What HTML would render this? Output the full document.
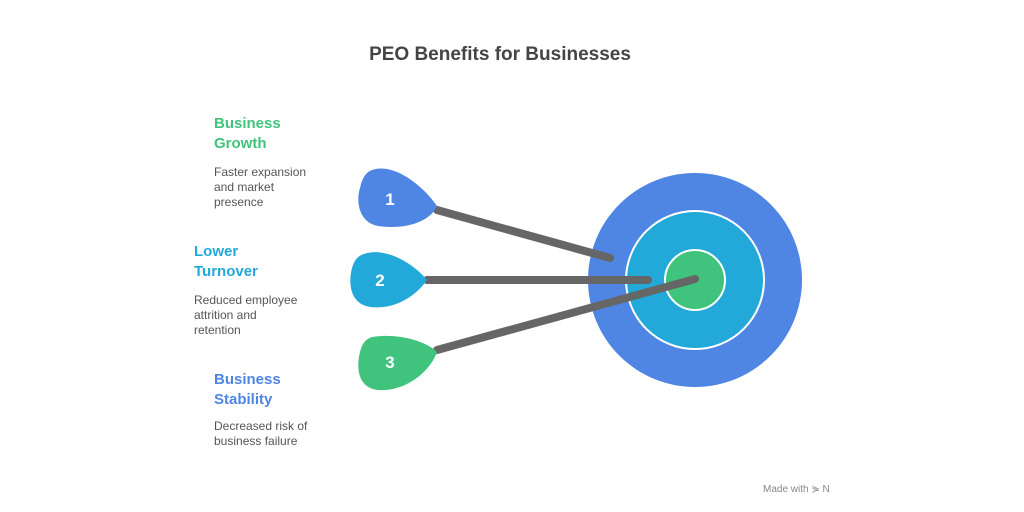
<!DOCTYPE html>
<html><head><style>
body{margin:0;width:1024px;height:512px;background:#fff;font-family:"Liberation Sans",sans-serif;position:relative;overflow:hidden}
.t{position:absolute;font-weight:bold;font-size:15px;line-height:20px}
.d{position:absolute;font-size:12px;line-height:15px;color:#555}
</style></head><body>
<div style="position:absolute;top:44px;left:0;width:1000px;text-align:center;font-size:19px;font-weight:bold;color:#444">PEO Benefits for Businesses</div>
<div class="t" style="left:214px;top:114px;color:#3fc37d">Business<br>Growth</div>
<div class="d" style="left:214px;top:165px">Faster expansion<br>and market<br>presence</div>
<div class="t" style="left:194px;top:242px;color:#22a9d9">Lower<br>Turnover</div>
<div class="d" style="left:194px;top:293px">Reduced employee<br>attrition and<br>retention</div>
<div class="t" style="left:214px;top:370px;color:#4f86e3">Business<br>Stability</div>
<div class="d" style="left:214px;top:419px">Decreased risk of<br>business failure</div>
<div style="position:absolute;left:763px;top:484px;font-size:10px;color:#888">Made with ⋟ N</div>
<svg width="1024" height="512" style="position:absolute;left:0;top:0">
<circle cx="695" cy="280" r="107" fill="#4f86e3"/>
<circle cx="695" cy="280" r="69" fill="#22a9d9" stroke="#fff" stroke-width="2"/>
<circle cx="695" cy="280" r="30" fill="#3fc37d" stroke="#fff" stroke-width="2"/>
<g stroke="#666" stroke-width="8" stroke-linecap="round">
<line x1="437" y1="210" x2="610" y2="258"/>
<line x1="427" y1="280" x2="648" y2="280"/>
<line x1="437" y1="350" x2="695" y2="279"/>
</g>
<g font-family="Liberation Sans" font-weight="bold" font-size="17" fill="#fff" text-anchor="middle">
<path d="M372 170 C395 162 425 188 437 206 C430 222 405 230 378 226 C358 222 356 200 360 188 C362 178 366 172 372 170Z" fill="#4f86e3"/>
<text x="390" y="205">1</text>
<path d="M364 254 C387 246 416 266 427 280 C416 296 395 310 370 307 C350 304 348 283 352 268 C355 259 358 256 364 254Z" fill="#22a9d9"/>
<text x="380" y="286">2</text>
<path d="M372 337 C395 333 425 340 437 352 C430 372 405 392 378 390 C358 388 356 368 360 352 C362 343 366 339 372 337Z" fill="#3fc37d"/>
<text x="390" y="368">3</text>
</g>
</svg>
</body></html>
